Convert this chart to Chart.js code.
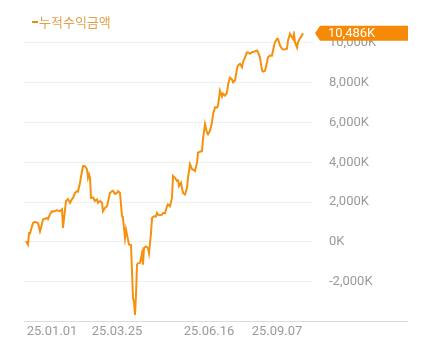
<!DOCTYPE html>
<html lang="ko">
<head>
<meta charset="utf-8">
<title>누적수익금액</title>
<script src="https://cdn.jsdelivr.net/npm/chart.js@4/dist/chart.umd.min.js"></script>
<style>
  html, body { margin: 0; padding: 0; background: #fff; }
  #wrap { width: 432px; height: 356px; position: relative; }
</style>
</head>
<body>
<div id="wrap"><canvas id="graficoLucro"></canvas></div>
<script>
// DADOS

const serieNome = "누적수익금액";

// indice do dia de negociacao
const dias = [
  0, 2, 3, 4, 7, 9, 12, 14, 15, 17, 21, 22, 24, 26, 27, 31, 34, 36, 37, 40,
  42, 44, 46, 47, 49, 51, 52, 54, 56, 57, 59, 61, 62, 63, 64, 65, 67, 69, 71, 72,
  74, 76, 77, 79, 81, 84, 86, 87, 89, 91, 92, 94, 96, 97, 99, 100, 101, 102, 103, 105,
  106, 107, 108, 109, 110, 111, 112, 114, 115, 116, 117, 118, 120, 122, 123, 125, 126, 128, 130, 131,
  132, 134, 136, 137, 139, 141, 142, 144, 146, 147, 149, 151, 152, 153, 155, 157, 159, 161, 162, 164,
  166, 167, 169, 171, 172, 174, 176, 177, 179, 181, 182, 184, 186, 187, 189, 191, 192, 194, 196, 197,
  199, 201, 202, 204, 206, 207, 209, 211, 212, 214, 216, 217, 219, 221, 222, 224, 226, 227, 231, 232,
  234, 236, 237, 239, 241, 242, 244, 246, 247, 249, 251, 252, 254, 256, 257, 259, 261, 262, 264, 266,
  267, 268, 269, 271, 272, 274, 276, 277,
];

// valores em milhares (K)
const valores = [
  30, -140, 440, 430, 950, 1000, 950, 530, 700, 1120, 1200, 1140, 1390, 1540, 1520, 1590, 1540, 1640, 700, 2050,
  2150, 1960, 2150, 2210, 2460, 2550, 2530, 2970, 3560, 3810, 3800, 3650, 3220, 3390, 3220, 2210, 2230, 2050, 2130, 1960,
  2050, 1960, 1540, 1710, 1790, 2450, 2550, 2560, 2410, 2460, 2550, 2460, 1290, 1200, 190, 620, 360, 110, -140, -150,
  -1490, -2840, -3000, -3680, -2670, -1150, -1070, -1060, -820, -570, -1150, -310, -230, -310, -570, 440, 1200, 1290, 1280, 1450,
  1370, 1340, 1370, 1450, 1440, 1790, 1880, 1790, 2210, 3310, 3220, 3060, 3140, 2800, 2970, 2460, 2380, 2720, 3220, 3900,
  3650, 3640, 3560, 3980, 4480, 4530, 4570, 5160, 5920, 5490, 5410, 5580, 6000, 6420, 6760, 6750, 6840, 7600, 7300, 7450,
  7350, 7500, 7900, 8260, 8160, 8020, 8110, 8700, 8860, 8950, 8780, 9030, 9280, 9530, 9520, 9450, 9530, 9540, 9620, 9530,
  9280, 8610, 8560, 8600, 9030, 9280, 9370, 9360, 9620, 10040, 10210, 10200, 9870, 9710, 9670, 9680, 9710, 10130, 10460, 10290,
  10210, 10450, 10040, 9770, 10040, 10230, 10380, 10486,
];

const ticksX = [26, 91, 183, 251];
const rotulosX = ["25.01.01", "25.03.25", "25.06.16", "25.09.07"];
const ticksY = [-2000, 0, 2000, 4000, 6000, 8000, 10000];

const LARANJA = "#f4910f";
const CINZA = "#9a9a9a";

Chart.defaults.font.family = "Roboto, 'Noto Sans CJK KR', sans-serif";

const formatarK = (v) => Number(v).toLocaleString("en-US") + "K";

// legenda, linha base e etiqueta do ultimo valor
const extras = {
  id: "extras",
  afterDraw(chart) {
    const { ctx, chartArea, scales } = chart;
    const direita = chart.width - 24;
    ctx.save();

    ctx.strokeStyle = "#dcdcdc";
    ctx.lineWidth = 1;
    ctx.beginPath();
    ctx.moveTo(chartArea.left, Math.round(chartArea.bottom) + 0.5);
    ctx.lineTo(direita, Math.round(chartArea.bottom) + 0.5);
    ctx.stroke();

    ctx.fillStyle = "#de8d22";
    ctx.fillRect(32, 21, 6, 2);
    ctx.fillStyle = "#e2a04a";
    ctx.font = "13px 'Noto Sans CJK KR', sans-serif";
    ctx.textBaseline = "middle";
    ctx.textAlign = "left";
    ctx.fillText(chart.data.datasets[0].label, 39, 22);

    const ultimo = valores[valores.length - 1];
    const y = scales.y.getPixelForValue(ultimo);
    const x0 = chartArea.right + 2;
    ctx.fillStyle = "#f68a06";
    ctx.beginPath();
    ctx.moveTo(x0, y);
    ctx.lineTo(x0 + 5, y - 7.5);
    ctx.lineTo(direita, y - 7.5);
    ctx.lineTo(direita, y + 7.5);
    ctx.lineTo(x0 + 5, y + 7.5);
    ctx.closePath();
    ctx.fill();
    ctx.fillStyle = "#ffffff";
    ctx.font = "13px Roboto, sans-serif";
    ctx.fillText(formatarK(ultimo), x0 + 13, y + 0.5);

    ctx.restore();
  },
};

new Chart(document.getElementById("graficoLucro"), {
  type: "line",
  data: {
    datasets: [
      {
        label: serieNome,
        data: dias.map((d, i) => ({ x: d, y: valores[i] })),
        borderColor: LARANJA,
        borderWidth: 2,
        pointRadius: 0,
        tension: 0,
        fill: false,
      },
    ],
  },
  options: {
    responsive: true,
    maintainAspectRatio: false,
    animation: false,
    layout: { padding: { top: 31, left: 24, right: 0, bottom: 13 } },
    plugins: {
      legend: { display: false },
      tooltip: { enabled: false },
    },
    scales: {
      x: {
        type: "linear",
        min: -2,
        max: 287,
        afterBuildTicks: (s) => {
          s.ticks = ticksX.map((v) => ({ value: v }));
        },
        ticks: {
          autoSkip: false,
          maxRotation: 0,
          padding: 3,
          color: CINZA,
          font: { size: 13 },
          callback: (v, i) => rotulosX[i],
        },
        grid: { display: false, drawTicks: false },
        border: { display: false },
      },
      y: {
        position: "right",
        min: -4000,
        max: 10600,
        afterBuildTicks: (s) => {
          s.ticks = ticksY.map((v) => ({ value: v }));
        },
        afterFit: (s) => {
          s.width = 119;
        },
        ticks: {
          padding: 16,
          color: CINZA,
          font: { size: 13 },
          callback: (v) => formatarK(v),
        },
        grid: { color: "#efefef", drawTicks: false },
        border: { display: false },
      },
    },
  },
  plugins: [extras],
});
</script>
</body>
</html>
